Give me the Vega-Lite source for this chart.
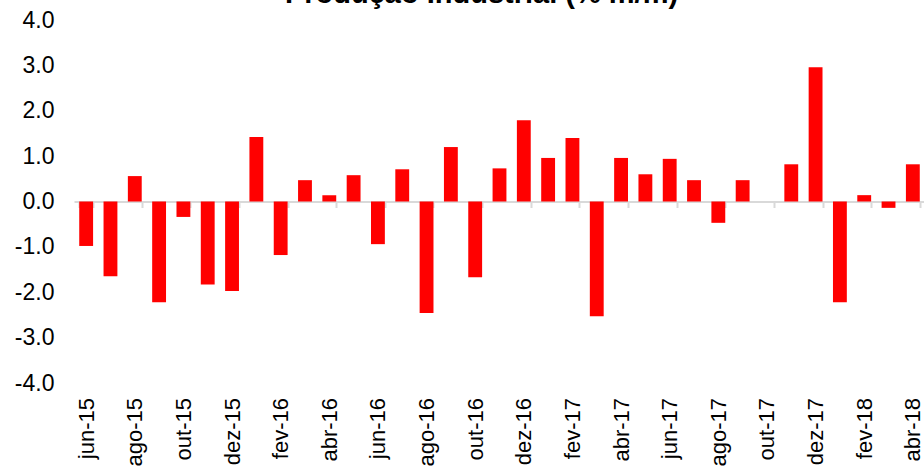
{
  "$schema": "https://vega.github.io/schema/vega-lite/v6.json",
  "autosize": "none",
  "width": 851,
  "height": 363,
  "padding": {"left": 74, "top": 20, "right": 0, "bottom": 91},
  "background": "white",
  "title": {
    "text": "Produção Industrial (% m/m)",
    "font": "Liberation Sans",
    "fontSize": 29,
    "fontWeight": "bold",
    "color": "#000000",
    "anchor": "middle",
    "frame": "group",
    "baseline": "alphabetic",
    "offset": 0,
    "dy": 23,
    "dx": -18
  },
  "data": {
    "values": [
      {"mes": "jun-15", "valor": -0.98},
      {"mes": "jul-15", "valor": -1.65},
      {"mes": "ago-15", "valor": 0.56},
      {"mes": "set-15", "valor": -2.22},
      {"mes": "out-15", "valor": -0.34},
      {"mes": "nov-15", "valor": -1.83},
      {"mes": "dez-15", "valor": -1.97},
      {"mes": "jan-16", "valor": 1.42},
      {"mes": "fev-16", "valor": -1.18},
      {"mes": "mar-16", "valor": 0.47},
      {"mes": "abr-16", "valor": 0.14},
      {"mes": "mai-16", "valor": 0.58},
      {"mes": "jun-16", "valor": -0.94},
      {"mes": "jul-16", "valor": 0.71},
      {"mes": "ago-16", "valor": -2.46},
      {"mes": "set-16", "valor": 1.2},
      {"mes": "out-16", "valor": -1.67},
      {"mes": "nov-16", "valor": 0.73},
      {"mes": "dez-16", "valor": 1.79},
      {"mes": "jan-17", "valor": 0.96},
      {"mes": "fev-17", "valor": 1.4},
      {"mes": "mar-17", "valor": -2.53},
      {"mes": "abr-17", "valor": 0.96},
      {"mes": "mai-17", "valor": 0.6},
      {"mes": "jun-17", "valor": 0.94},
      {"mes": "jul-17", "valor": 0.47},
      {"mes": "ago-17", "valor": -0.47},
      {"mes": "set-17", "valor": 0.47},
      {"mes": "out-17", "valor": 0.0},
      {"mes": "nov-17", "valor": 0.82},
      {"mes": "dez-17", "valor": 2.96},
      {"mes": "jan-18", "valor": -2.22},
      {"mes": "fev-18", "valor": 0.14},
      {"mes": "mar-18", "valor": -0.14},
      {"mes": "abr-18", "valor": 0.82}
    ]
  },
  "mark": {"type": "bar", "color": "#ff0000"},
  "encoding": {
    "x": {
      "field": "mes",
      "type": "nominal",
      "sort": null,
      "scale": {"paddingInner": 0.43, "paddingOuter": 0.215},
      "axis": {
        "title": null,
        "offset": -181.5,
        "values": ["jun-15", "ago-15", "out-15", "dez-15", "fev-16", "abr-16", "jun-16", "ago-16", "out-16", "dez-16", "fev-17", "abr-17", "jun-17", "ago-17", "out-17", "dez-17", "fev-18", "abr-18"],
        "domainColor": "#d9d9d9",
        "domainWidth": 2,
        "tickColor": "#d9d9d9",
        "tickWidth": 2,
        "tickSize": 6,
        "tickBand": "extent",
        "labelAngle": -90,
        "labelAlign": "right",
        "labelBaseline": "middle",
        "labelPadding": 190,
        "labelFont": "Liberation Sans",
        "labelFontSize": 22,
        "labelColor": "#000000",
        "labelOverlap": false,
        "zindex": 0
      }
    },
    "y": {
      "field": "valor",
      "type": "quantitative",
      "scale": {"domain": [-4, 4], "nice": false, "zero": true},
      "axis": {
        "title": null,
        "values": [-4, -3, -2, -1, 0, 1, 2, 3, 4],
        "format": ".1f",
        "labelExpr": "replace(datum.label, '−', '-')",
        "domain": false,
        "ticks": false,
        "grid": false,
        "labelPadding": 20,
        "labelFont": "Liberation Sans",
        "labelFontSize": 23,
        "labelColor": "#000000"
      }
    }
  },
  "config": {"view": {"stroke": null}}
}
